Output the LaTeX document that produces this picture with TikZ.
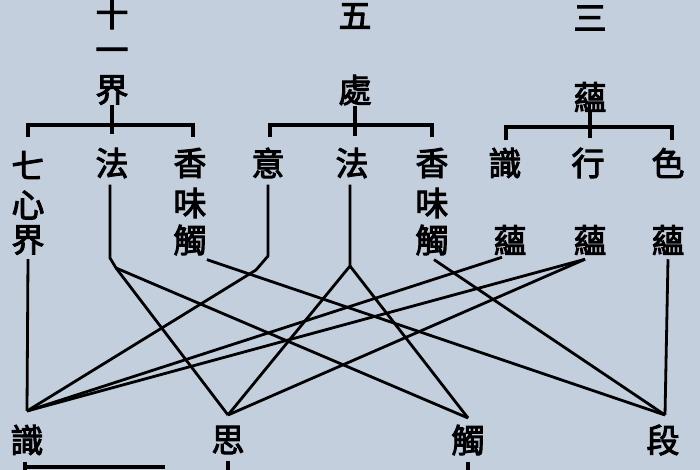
\documentclass[tikz,border=0pt]{standalone}
\usepackage{fontspec}
\newfontfamily\cjk[FakeBold=3]{Noto Sans CJK TC}
\definecolor{paper}{HTML}{C4CFDE}
\begin{document}
\begin{tikzpicture}[
    x=0.5pt, y=-0.5pt,
    zi/.style={font=\cjk\fontsize{16.5}{16.5}\selectfont, inner sep=0pt},
    link/.style={line width=1.4pt, line join=round},
    tick/.style={line width=1.6pt}
]
\fill[paper] (0,0) rectangle (700,470);
\clip (0,0) rectangle (700,470);

% Headings
\node[zi] (jie1) at (112,14) {十};
\node[zi] (jie2) at (112,55) {一};
\node[zi] (jie3) at (112,90) {界};
\node[zi] (chu1) at (355,16) {五};
\node[zi] (chu2) at (355,90) {處};
\node[zi] (yun1) at (590,18) {三};
\node[zi] (yun2) at (590,97) {蘊};

% Brackets
\draw[tick] (28,137) |- (193,125) -- (193,137);
\draw[tick] (jie3.south) -- (112,134);
\draw[tick] (270,137) |- (432,125) -- (432,137);
\draw[tick] (chu2.south) -- (355,136);
\draw[tick] (506,140) |- (672,127) -- (672,140);
\draw[tick] (yun2.south) -- (590,138);

% Second row
\node[zi] (qi) at (28,165) {七};
\node[zi] at (28,205) {心};
\node[zi] (qijie) at (28,240) {界};
\node[zi] (faA) at (112,163) {法};
\node[zi] (xiangA) at (190,163) {香};
\node[zi] at (190,203) {味};
\node[zi] (chuA) at (190,240) {觸};
\node[zi] (yi) at (268,163) {意};
\node[zi] (faB) at (352,163) {法};
\node[zi] (xiangB) at (432,163) {香};
\node[zi] at (432,203) {味};
\node[zi] (chuB) at (432,240) {觸};
\node[zi] (shi) at (505,163) {識};
\node[zi] (xing) at (588,163) {行};
\node[zi] (se) at (668,163) {色};
\node[zi] (shiyun) at (510,240) {蘊};
\node[zi] (xingyun) at (590,240) {蘊};
\node[zi] (seyun) at (668,240) {蘊};

% Bottom row
\node[zi] (shiB) at (27,440) {識};
\node[zi] (si) at (228,440) {思};
\node[zi] (chuC) at (468,440) {觸};
\node[zi] (duan) at (663,440) {段};
\coordinate (shiIn) at (27,411);
\coordinate (siIn) at (228,415);
\coordinate (chuIn) at (468,418);
\coordinate (duanIn) at (665,415);

% Turning points
\coordinate (faAk) at (110,258);
\coordinate (faAo) at (116,268);
\coordinate (yik) at (268,256);
\coordinate (yio) at (256,270);
\coordinate (faBo) at (350,266);

% Links
\draw[link] (qijie.south) ++(0,4) -- (shiIn);
\draw[link] (faA.south) ++(-2,6) -- (faAk) -- (faAo) -- (siIn);
\draw[link] (faAo) -- (chuIn);
\draw[link] (chuA.south east) ++(0,4) -- (duanIn);
\draw[link] (yi.south) ++(0,6) -- (yik) -- (yio) -- (shiIn);
\draw[link] (faB.south) ++(-2,6) -- (faBo) -- (siIn);
\draw[link] (faBo) -- (chuIn);
\draw[link] (chuB.south) ++(2,4) -- (duanIn);
\draw[link] (shiyun.south) ++(-8,2) -- (shiIn);
\draw[link] (xingyun.south) ++(-5,4) coordinate (xo) -- (shiIn);
\draw[link] (xo) -- (siIn);
\draw[link] (seyun.south) ++(0,4) -- (duanIn);

% Lower ticks
\draw[tick] (shiB.south) ++(-2,6) -- (25,470);
\draw[tick] (25,467) -- (165,467);
\draw[tick] (si.south) ++(0,6) -- (228,470);
\draw[tick] (chuC.south) ++(0,6) -- (468,470);
\end{tikzpicture}
\end{document}
